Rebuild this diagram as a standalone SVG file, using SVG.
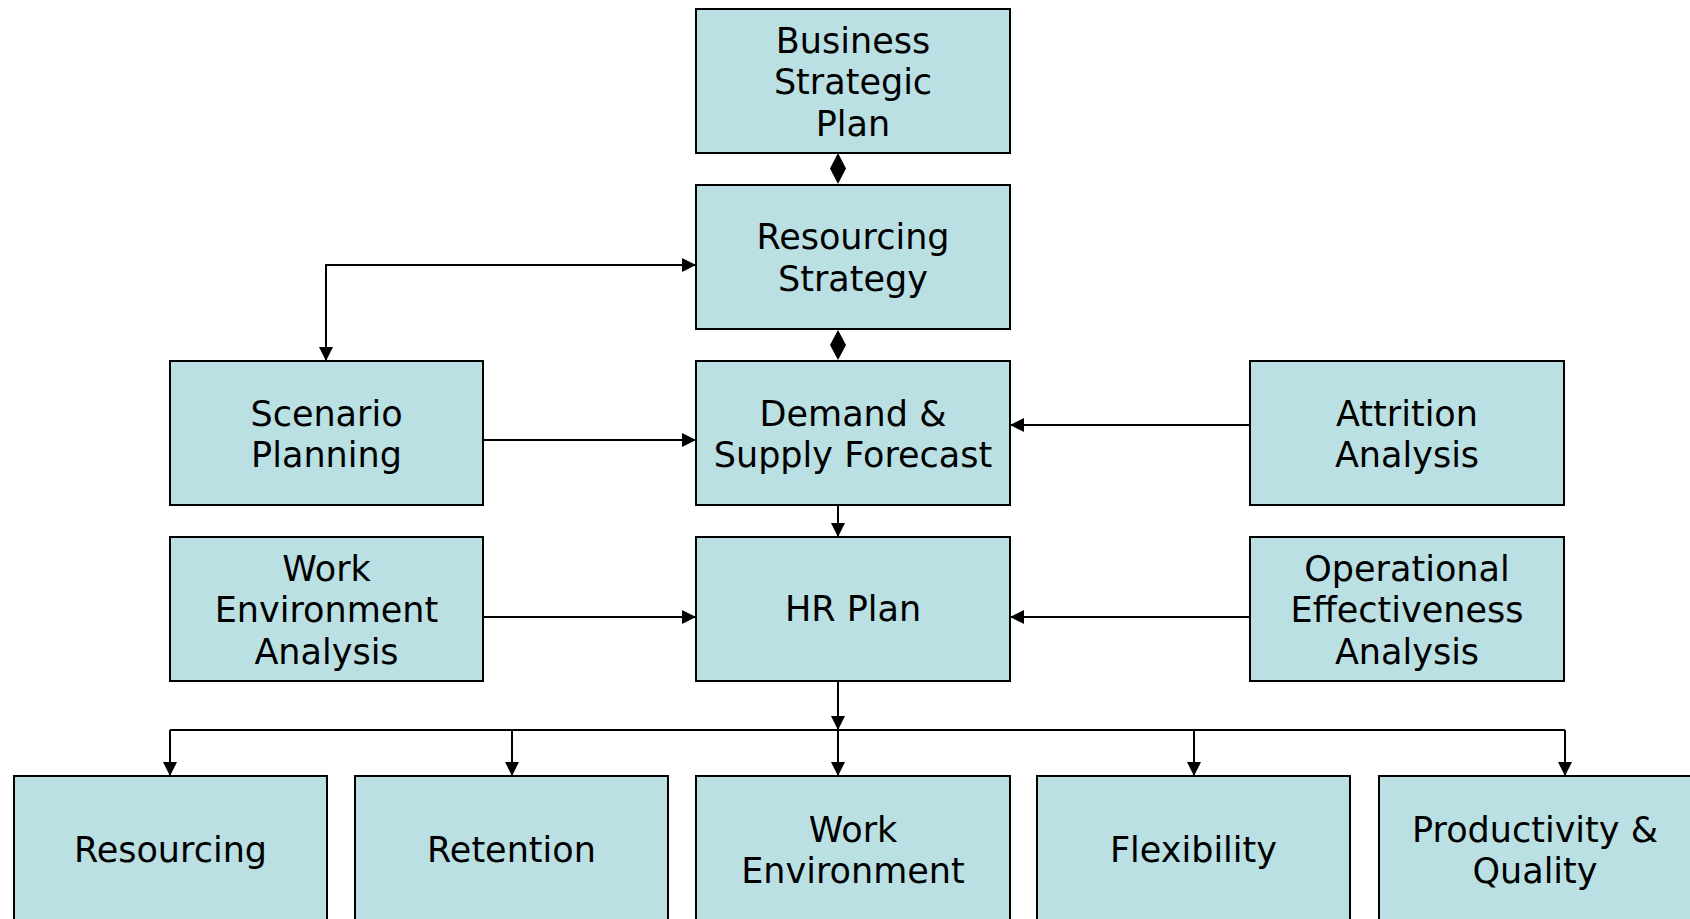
<svg xmlns="http://www.w3.org/2000/svg" width="1690" height="919" viewBox="0 0 1690 919">
<style>
.box{fill:#bae0e3;stroke:#000;stroke-width:2}
.lbl{font-family:"DejaVu Sans",Verdana,sans-serif;font-size:35px;fill:#000;text-anchor:middle}
.ln{fill:none;stroke:#000;stroke-width:2}
</style>
<defs>
<marker id="arr" markerUnits="userSpaceOnUse" markerWidth="15" markerHeight="14" refX="14" refY="7" orient="auto-start-reverse" viewBox="0 0 15 14">
<path d="M0,0 L14,7 L0,14 z" fill="#000"/>
</marker>
</defs>
<rect width="1690" height="919" fill="#fff"/>
<g id="connectors">
<polygon points="838,153 846,168.5 838,184 830,168.5" fill="#000"/>
<polygon points="838,330 846,345 838,360 830,345" fill="#000"/>
<path class="ln" d="M326,361 V265 H696" marker-start="url(#arr)" marker-end="url(#arr)"/>
<path class="ln" d="M483,440 H696" marker-end="url(#arr)"/>
<path class="ln" d="M1250,425 H1010" marker-end="url(#arr)"/>
<path class="ln" d="M838,504 V537" marker-end="url(#arr)"/>
<path class="ln" d="M483,617 H696" marker-end="url(#arr)"/>
<path class="ln" d="M1250,617 H1010" marker-end="url(#arr)"/>
<path class="ln" d="M838,680 V730" marker-end="url(#arr)"/>
<path class="ln" d="M170,730 H1565"/>
<path class="ln" d="M170,730 V776" marker-end="url(#arr)"/>
<path class="ln" d="M512,730 V776" marker-end="url(#arr)"/>
<path class="ln" d="M838,730 V776" marker-end="url(#arr)"/>
<path class="ln" d="M1194,730 V776" marker-end="url(#arr)"/>
<path class="ln" d="M1565,730 V776" marker-end="url(#arr)"/>
</g>
<g id="business-strategic-plan">
<rect class="box" x="696" y="9" width="314" height="144"/>
<text class="lbl" x="853" y="52.5">Business</text>
<text class="lbl" x="853" y="94">Strategic</text>
<text class="lbl" x="853" y="135.5">Plan</text>
</g>
<g id="resourcing-strategy">
<rect class="box" x="696" y="185" width="314" height="144"/>
<text class="lbl" x="853" y="249">Resourcing</text>
<text class="lbl" x="853" y="290.5">Strategy</text>
</g>
<g id="scenario-planning">
<rect class="box" x="170" y="361" width="313" height="144"/>
<text class="lbl" x="326.5" y="425.5">Scenario</text>
<text class="lbl" x="326.5" y="467">Planning</text>
</g>
<g id="demand-supply-forecast">
<rect class="box" x="696" y="361" width="314" height="144"/>
<text class="lbl" x="853" y="425.5">Demand &amp;</text>
<text class="lbl" x="853" y="467">Supply Forecast</text>
</g>
<g id="attrition-analysis">
<rect class="box" x="1250" y="361" width="314" height="144"/>
<text class="lbl" x="1407" y="425.5">Attrition</text>
<text class="lbl" x="1407" y="467">Analysis</text>
</g>
<g id="work-environment-analysis">
<rect class="box" x="170" y="537" width="313" height="144"/>
<text class="lbl" x="326.5" y="580.5">Work</text>
<text class="lbl" x="326.5" y="622">Environment</text>
<text class="lbl" x="326.5" y="663.5">Analysis</text>
</g>
<g id="hr-plan">
<rect class="box" x="696" y="537" width="314" height="144"/>
<text class="lbl" x="853" y="621">HR Plan</text>
</g>
<g id="operational-effectiveness-analysis">
<rect class="box" x="1250" y="537" width="314" height="144"/>
<text class="lbl" x="1407" y="580.5">Operational</text>
<text class="lbl" x="1407" y="622">Effectiveness</text>
<text class="lbl" x="1407" y="663.5">Analysis</text>
</g>
<g id="resourcing">
<rect class="box" x="14" y="776" width="313" height="160"/>
<text class="lbl" x="170.5" y="862">Resourcing</text>
</g>
<g id="retention">
<rect class="box" x="355" y="776" width="313" height="160"/>
<text class="lbl" x="511.5" y="862">Retention</text>
</g>
<g id="work-environment">
<rect class="box" x="696" y="776" width="314" height="160"/>
<text class="lbl" x="853" y="841.5">Work</text>
<text class="lbl" x="853" y="883">Environment</text>
</g>
<g id="flexibility">
<rect class="box" x="1037" y="776" width="313" height="160"/>
<text class="lbl" x="1193.5" y="862">Flexibility</text>
</g>
<g id="productivity-quality">
<rect class="box" x="1379" y="776" width="330" height="160"/>
<text class="lbl" x="1535" y="841.5">Productivity &amp;</text>
<text class="lbl" x="1535" y="883">Quality</text>
</g>
</svg>
